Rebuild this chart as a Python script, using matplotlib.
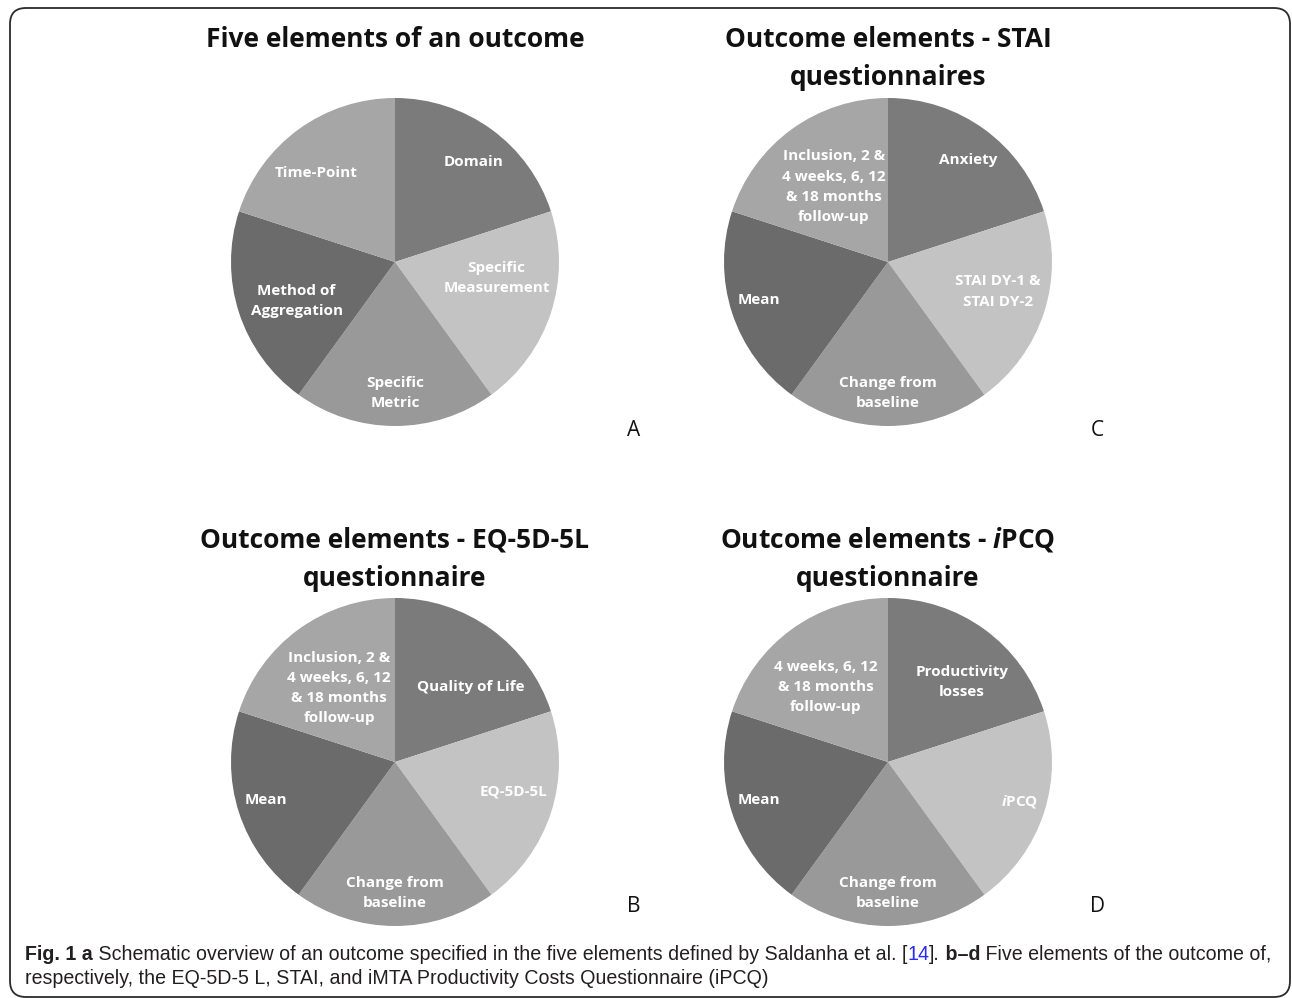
import matplotlib
matplotlib.use('Agg')
import matplotlib.pyplot as plt
from matplotlib import font_manager
from matplotlib.patches import FancyBboxPatch

# 다섯 요소 - 네 개의 원그래프 (모두 동일 비율)
shares = [20, 20, 20, 20, 20]
gray_cols = ['#7b7b7b', '#c3c3c3', '#999999', '#6b6b6b', '#a6a6a6']

labels_a = ['Domain', 'Specific\nMeasurement', 'Specific\nMetric',
            'Method of\nAggregation', 'Time-Point']
labels_c = ['Anxiety', 'STAI DY-1 &\nSTAI DY-2', 'Change from\nbaseline', 'Mean',
            'Inclusion, 2 &\n4 weeks, 6, 12\n& 18 months\nfollow-up']
labels_b = ['Quality of Life', 'EQ-5D-5L', 'Change from\nbaseline', 'Mean',
            'Inclusion, 2 &\n4 weeks, 6, 12\n& 18 months\nfollow-up']
labels_d = ['Productivity\nlosses', r'$\mathit{i}$PCQ', 'Change from\nbaseline', 'Mean',
            '4 weeks, 6, 12\n& 18 months\nfollow-up']

titles_a = ['Five elements of an outcome']
titles_c = ['Outcome elements - STAI', 'questionnaires']
titles_b = ['Outcome elements - EQ-5D-5L', 'questionnaire']
titles_d = [r'Outcome elements - $\mathit{i}$PCQ', 'questionnaire']

# 라벨 위치 (반지름 단위)
pos_a = [(0.48, 0.61), (0.62, -0.10), (0.0, -0.80), (-0.60, -0.24), (-0.48, 0.54)]
pos_c = [(0.49, 0.62), (0.67, -0.18), (0.0, -0.80), (-0.79, -0.23), (-0.33, 0.46)]
pos_b = [(0.46, 0.46), (0.72, -0.18), (0.0, -0.80), (-0.79, -0.23), (-0.34, 0.45)]
pos_d = [(0.45, 0.49), (0.80, -0.24), (0.0, -0.80), (-0.79, -0.23), (-0.38, 0.46)]

W, H = 1292, 998
plt.rcParams['font.family'] = ['Open Sans', 'DejaVu Sans']
plt.rcParams['mathtext.fontset'] = 'custom'
plt.rcParams['mathtext.it'] = 'Open Sans:italic:bold'
plt.rcParams['mathtext.rm'] = 'Open Sans:bold'

names = {f.name for f in font_manager.fontManager.ttflist}
cap_font = 'Liberation Sans Narrow' if 'Liberation Sans Narrow' in names else 'Liberation Sans'
cap_size = 13.5 if cap_font == 'Liberation Sans Narrow' else 14.1

fig = plt.figure(figsize=(W / 100, H / 100), dpi=100)

# 바깥 테두리
border = FancyBboxPatch((10 / 100, 1 / 100), 1280 / 100, 989 / 100,
                        boxstyle='round,pad=0,rounding_size=0.16',
                        transform=fig.dpi_scale_trans, fill=False,
                        edgecolor='#2b2b2b', linewidth=1.3)
fig.patches.append(border)

R = 164
panels = [
    (395, 262, labels_a, pos_a, titles_a, 'A', 634, 430),
    (888, 262, labels_c, pos_c, titles_c, 'C', 1097, 430),
    (395, 762, labels_b, pos_b, titles_b, 'B', 634, 906),
    (888, 762, labels_d, pos_d, titles_d, 'D', 1097, 906),
]

for cx, cy, labs, pos, tl, letter, lx, ly in panels:
    ax = fig.add_axes([(cx - R) / W, (H - cy - R) / H, 2 * R / W, 2 * R / H])
    ax.pie(shares, colors=gray_cols, startangle=90, counterclock=False,
           wedgeprops=dict(linewidth=0))
    ax.set_xlim(-1, 1)
    ax.set_ylim(-1, 1)
    ax.axis('off')
    for lab, (px, py) in zip(labs, pos):
        ax.text(px, py, lab, ha='center', va='center', color='white',
                fontsize=11, fontweight='bold', linespacing=1.55)
    ty = 37 if cy < 500 else 538
    for i, t in enumerate(tl):
        fig.text(cx / W, 1 - (ty + 10 + 38 * i) / H, t, ha='center', va='baseline',
                 fontsize=19, fontweight='bold', color='#111111')
    fig.text(lx / W, 1 - ly / H, letter, ha='center', va='center',
             fontsize=15, color='#111111')

# 캡션 (굵은 글씨, 파란 참조번호 섞음)
def rich_line(x_px, y_px, pieces):
    texts = []
    for s, kw in pieces:
        texts.append(fig.text(0, 0, s, va='center', ha='left', fontsize=cap_size,
                              family=[cap_font, 'DejaVu Sans'], **kw))
    renderer = fig.canvas.get_renderer()
    x = x_px
    for t in texts:
        t.set_position((x / W, 1 - y_px / H))
        x += t.get_window_extent(renderer).width

cap = '#231f20'
rich_line(25, 954, [
    ('Fig. 1 a', dict(fontweight='bold', color=cap)),
    (' Schematic overview of an outcome specified in the five elements defined by Saldanha et al. [',
     dict(color=cap)),
    ('14', dict(color='#2a2aff')),
    ('].', dict(color=cap)),
    (' b\u2013d', dict(fontweight='bold', color=cap)),
    (' Five elements of the outcome of,', dict(color=cap)),
])
rich_line(25, 979, [
    ('respectively, the EQ-5D-5 L, STAI, and iMTA Productivity Costs Questionnaire (iPCQ)',
     dict(color=cap)),
])

fig.savefig('out.png', dpi=100)
